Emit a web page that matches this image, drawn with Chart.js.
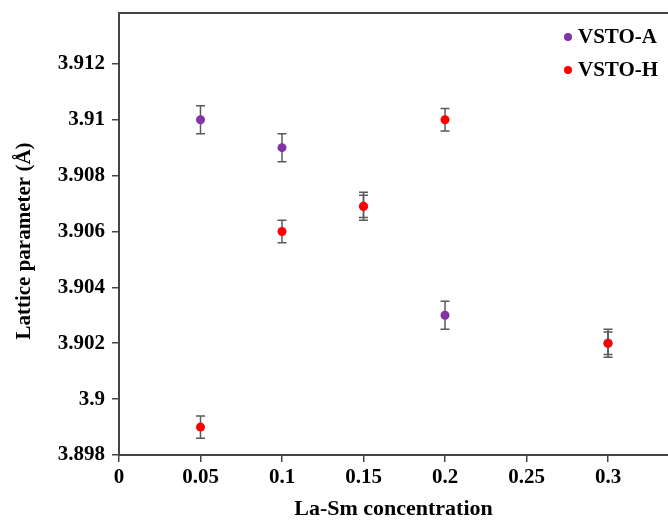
<!DOCTYPE html>
<html>
<head>
<meta charset="utf-8">
<script src="https://cdn.jsdelivr.net/npm/chart.js@4/dist/chart.umd.min.js"></script>
<style>
  html, body { margin: 0; padding: 0; background: #fff; overflow: hidden; }
  #wrap { width: 668px; height: 523px; }
  canvas { display: block; }
</style>
</head>
<body>
<div id="wrap"><canvas id="myChart" width="668" height="523"></canvas></div>
<script>
// values
var concA = [0.05, 0.1, 0.15, 0.2, 0.3]
var latticeA = [3.9100, 3.9090, 3.9069, 3.9030, 3.9020]
var errA = [0.0005, 0.0005, 0.0005, 0.0005, 0.0005]

var concH = [0.05, 0.1, 0.15, 0.2, 0.3]
var latticeH = [3.8990, 3.9060, 3.9069, 3.9100, 3.9020]
var errH = [0.0004, 0.0004, 0.0004, 0.0004, 0.0004]

var xTicks = [0, 0.05, 0.1, 0.15, 0.2, 0.25, 0.3]
var yTicks = [3.898, 3.9, 3.902, 3.904, 3.906, 3.908, 3.91, 3.912]

var seriesNames = ['VSTO-A', 'VSTO-H']
var seriesColors = ['#8233a6', '#ff0000']
var yTitle = 'Lattice parameter (Å)'

var fontFam = '"Liberation Serif", "Times New Roman", serif'

function toPoints(xs, ys, es) {
	var pts = []
	for (var i = 0; i < xs.length; i++) {
		pts.push({x: xs[i], y: ys[i], err: es[i]})
	}
	return pts
}

// error bars, drawn through the scales
var errorBars = {
	id: 'errorBars',
	beforeDatasetsDraw: function(chart) {
		var ctx = chart.ctx
		var xs = chart.scales.x, ys = chart.scales.y
		ctx.save()
		ctx.strokeStyle = '#5a5a5a'
		ctx.lineWidth = 1.5
		chart.data.datasets.forEach(function(ds) {
			ds.data.forEach(function(p) {
				var px = xs.getPixelForValue(p.x)
				var top = ys.getPixelForValue(p.y + p.err)
				var bot = ys.getPixelForValue(p.y - p.err)
				ctx.beginPath()
				ctx.moveTo(px, top); ctx.lineTo(px, bot)
				ctx.moveTo(px - 4.5, top); ctx.lineTo(px + 4.5, top)
				ctx.moveTo(px - 4.5, bot); ctx.lineTo(px + 4.5, bot)
				ctx.stroke()
			})
		})
		ctx.restore()
	}
}

// top frame line, y title and the legend in the corner
var frame = {
	id: 'frame',
	afterDraw: function(chart) {
		var ctx = chart.ctx
		var a = chart.chartArea
		ctx.save()
		ctx.strokeStyle = '#444'
		ctx.lineWidth = 2
		ctx.beginPath()
		ctx.moveTo(a.left - 1, a.top)
		ctx.lineTo(a.right, a.top)
		ctx.stroke()

		ctx.fillStyle = '#000'
		ctx.font = 'bold 21px ' + fontFam
		ctx.textAlign = 'center'
		ctx.textBaseline = 'middle'
		ctx.save()
		ctx.translate(25, 241)
		ctx.rotate(-Math.PI / 2)
		ctx.fillText(yTitle, 0, 0)
		ctx.restore()

		ctx.textAlign = 'left'
		for (var i = 0; i < seriesNames.length; i++) {
			var ly = 37 + i * 33
			ctx.beginPath()
			ctx.fillStyle = seriesColors[i]
			ctx.arc(568, ly, 4, 0, Math.PI * 2)
			ctx.fill()
			ctx.fillStyle = '#000'
			ctx.fillText(seriesNames[i], 578, ly + 1)
		}
		ctx.restore()
	}
}

var myChart = document.getElementById('myChart').getContext('2d')
var chart = new Chart(myChart, {
	type: 'scatter',
	data: {
		datasets: [
			{
				label: seriesNames[0],
				data: toPoints(concA, latticeA, errA),
				backgroundColor: seriesColors[0],
				borderColor: seriesColors[0],
				pointRadius: 4.5,
				borderWidth: 0,
				order: 1
			},
			{
				label: seriesNames[1],
				data: toPoints(concH, latticeH, errH),
				backgroundColor: seriesColors[1],
				borderColor: seriesColors[1],
				pointRadius: 4.5,
				borderWidth: 0,
				order: 0
			}
		]
	},
	options: {
		responsive: false,
		animation: false,
		layout: { autoPadding: false, padding: { top: 13, right: 0, left: 0, bottom: 0 } },
		plugins: {
			legend: { display: false },
			tooltip: { enabled: false }
		},
		scales: {
			x: {
				type: 'linear',
				min: 0,
				max: 0.3368,
				afterBuildTicks: function(s) { s.ticks = xTicks.map(function(v) { return {value: v} }) },
				afterFit: function(s) {
					s.height = 68
					s.paddingLeft = 0
					s.paddingRight = 0
				},
				grid: { drawOnChartArea: false, drawTicks: true, tickLength: 7, color: '#444', lineWidth: 1.5 },
				border: { color: '#444', width: 2 },
				ticks: {
					color: '#000',
					padding: 3,
					maxRotation: 0,
					font: { family: fontFam, size: 21, weight: 'bold' },
					callback: function(v) { return String(+v.toFixed(2)) }
				},
				title: {
					display: true,
					text: 'La-Sm concentration',
					color: '#000',
					padding: { top: 13, bottom: 0 },
					font: { family: fontFam, size: 22, weight: 'bold' }
				}
			},
			y: {
				type: 'linear',
				min: 3.898,
				max: 3.91382,
				afterBuildTicks: function(s) { s.ticks = yTicks.map(function(v) { return {value: v} }) },
				afterFit: function(s) {
					s.width = 119
					s.paddingTop = 0
					s.paddingBottom = 0
				},
				grid: { drawOnChartArea: false, drawTicks: true, tickLength: 7, color: '#444', lineWidth: 1.5 },
				border: { color: '#444', width: 2 },
				ticks: {
					color: '#000',
					padding: 7,
					font: { family: fontFam, size: 21, weight: 'bold' },
					callback: function(v) { return String(+v.toFixed(3)) }
				},
				title: { display: false }
			}
		}
	},
	plugins: [errorBars, frame]
})
</script>
</body>
</html>
